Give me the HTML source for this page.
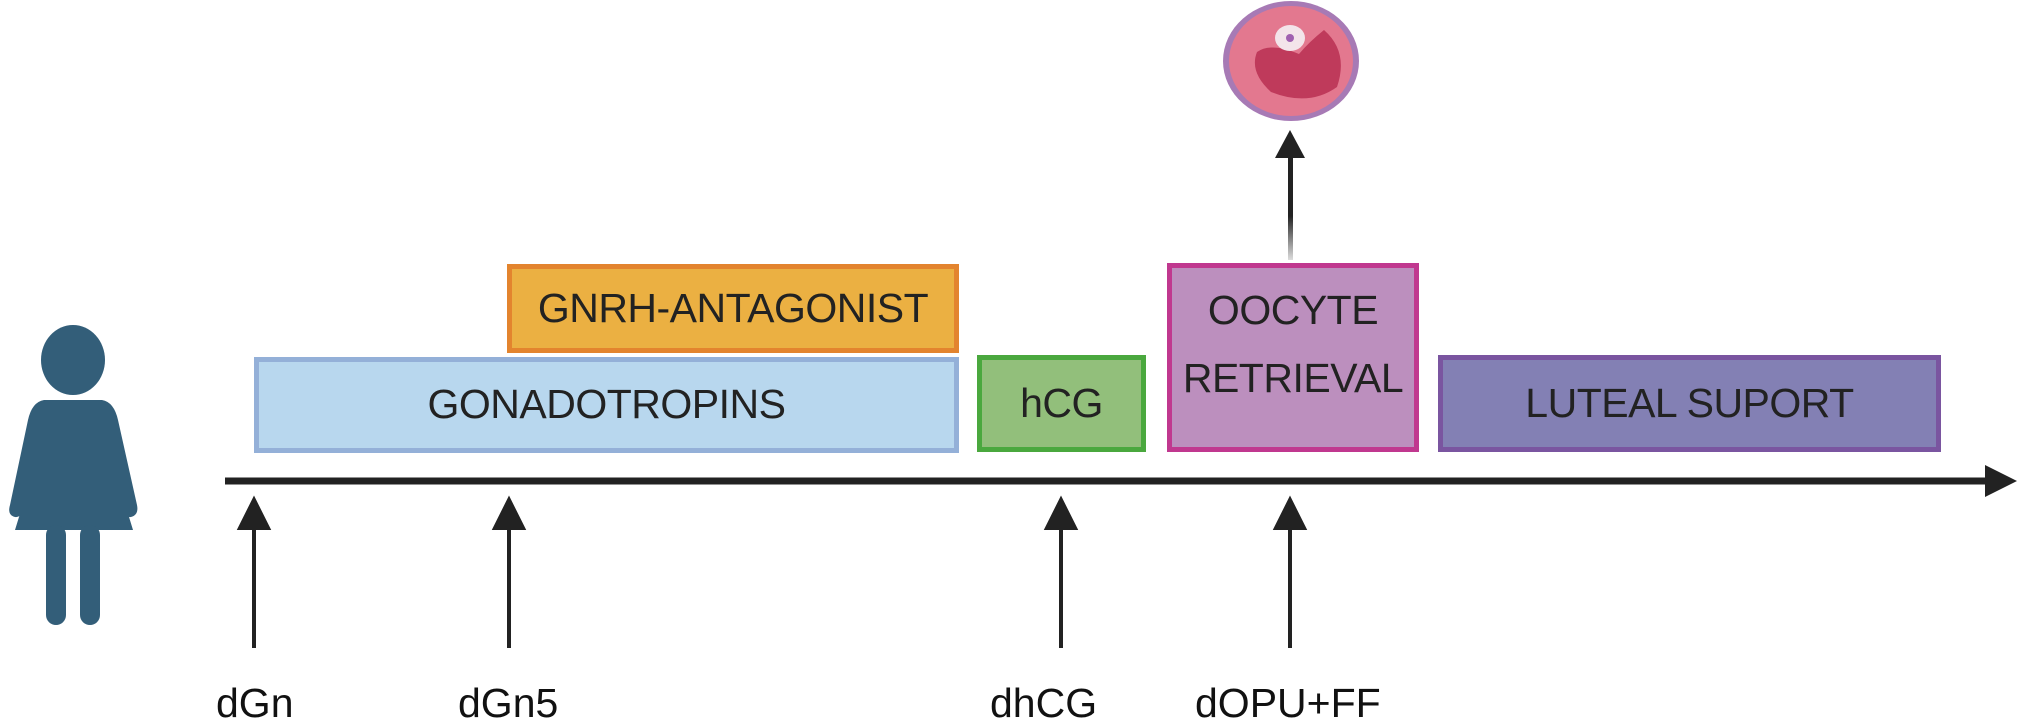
<!DOCTYPE html>
<html><head><meta charset="utf-8"><style>
html,body{margin:0;padding:0;background:#fff;}
body{width:2019px;height:717px;overflow:hidden;position:relative;font-family:"Liberation Sans",sans-serif;}
.b{position:absolute;box-sizing:border-box;border:5px solid;display:flex;align-items:center;justify-content:center;text-align:center;font-size:41px;color:#222;line-height:1.35;letter-spacing:-0.5px;}
.l{position:absolute;font-size:41px;color:#111;top:680px;}
</style></head><body>
<div class="b" style="left:254px;top:357px;width:705px;height:96px;background:#b8d7ee;border-color:#94b0d8;">GONADOTROPINS</div>
<div class="b" style="left:507px;top:264px;width:452px;height:89px;background:#ebb042;border-color:#e3842e;">GNRH-ANTAGONIST</div>
<div class="b" style="left:977px;top:355px;width:169px;height:97px;background:#92bf7b;border-color:#4aa83e;">hCG</div>
<div class="b" style="left:1167px;top:263px;width:252px;height:189px;background:#bc8fbe;border-color:#c0388f;align-items:flex-start;padding-top:8px;line-height:68px;">OOCYTE<br>RETRIEVAL</div>
<div class="b" style="left:1438px;top:355px;width:503px;height:97px;background:#8380b4;border-color:#7a55a0;">LUTEAL SUPORT</div>
<svg width="2019" height="717" style="position:absolute;left:0;top:0">
<defs><linearGradient id="g" x1="0" y1="0" x2="0" y2="1"><stop offset="0.6" stop-color="#222"/><stop offset="1" stop-color="#ddd"/></linearGradient></defs>
<line x1="225" y1="481" x2="1990" y2="481" stroke="#222" stroke-width="7"/>
<polygon points="1985,465 2017,481 1985,497" fill="#222"/>
<g stroke="#222" stroke-width="4" fill="#222">
<line x1="254" y1="520" x2="254" y2="648"/><polygon points="240,528 268,528 254,500"/>
<line x1="509" y1="520" x2="509" y2="648"/><polygon points="495,528 523,528 509,500"/>
<line x1="1061" y1="520" x2="1061" y2="648"/><polygon points="1047,528 1075,528 1061,500"/>
<line x1="1290" y1="520" x2="1290" y2="648"/><polygon points="1276,528 1304,528 1290,500"/>
</g>
<rect x="1288" y="150" width="5" height="110" fill="url(#g)"/>
<polygon points="1275,158 1305,158 1290,130" fill="#222"/>
<g transform="translate(9,2)">
<ellipse cx="1282" cy="59" rx="68" ry="60" fill="#a77ab5"/>
<ellipse cx="1282" cy="59" rx="62" ry="55" fill="#e3788f"/>
<path d="M1248 50 Q1262 40 1290 52 Q1300 40 1315 28 Q1340 50 1328 85 Q1300 105 1262 90 Q1240 70 1248 50Z" fill="#bf3a5b"/>
<ellipse cx="1281" cy="36" rx="15" ry="13" fill="#f3e4ea"/>
<circle cx="1281" cy="36" r="4" fill="#a060b0"/>
</g>
<g fill="#335e79">
<ellipse cx="73" cy="360" rx="32" ry="35"/>
<path d="M44 400 L102 400 Q114 402 118 420 L137 505 Q139 515 131 517 Q124 518 121 505 L110 455 L133 530 L15 530 L38 455 L25 505 Q22 518 15 517 Q7 515 10 505 L28 420 Q32 402 44 400Z"/>
<rect x="46" y="525" width="20" height="100" rx="10"/>
<rect x="80" y="525" width="20" height="100" rx="10"/>
</g>
</svg>
<div class="l" style="left:216px">dGn</div>
<div class="l" style="left:458px">dGn5</div>
<div class="l" style="left:990px">dhCG</div>
<div class="l" style="left:1195px">dOPU+FF</div>
</body></html>
